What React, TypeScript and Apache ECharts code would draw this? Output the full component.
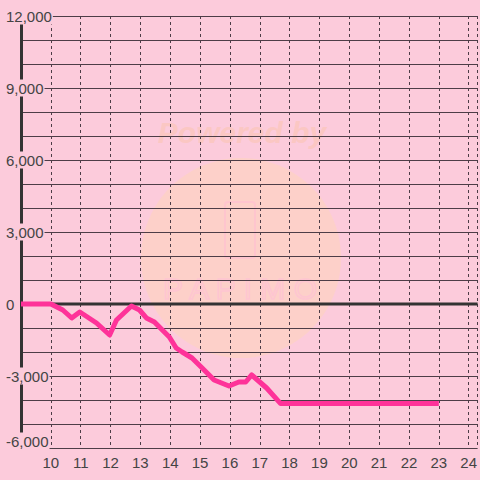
import React, { useEffect, useRef } from "react";
import * as echarts from "echarts";

const xValues = [9, 10, 10.4, 10.7, 10.97, 11.53, 11.97, 12.2, 12.7, 12.97, 13.2, 13.47, 13.97, 14.2, 14.4, 14.73, 15.07, 15.47, 15.97, 16.3, 16.53, 16.73, 17.23, 17.7, 23];
const yValues = [0, 0, -250, -583, -333, -792, -1292, -667, -83, -250, -583, -750, -1375, -1833, -2000, -2250, -2667, -3167, -3417, -3250, -3250, -2958, -3500, -4150, -4150];
const zeroLineX = [10, 24.3];
const zeroLineY = [0, 0];
const xTickLabels = [10, 11, 12, 13, 14, 15, 16, 17, 18, 19, 20, 21, 22, 23, 24];
const yTickLabels = [-6000, -3000, 0, 3000, 6000, 9000, 12000];

const BG = "#fccbdb";
const GRID = "#4d3d47";
const FONT = "'Liberation Sans', Arial, sans-serif";

export default function App() {
  const ref = useRef<HTMLDivElement>(null);
  useEffect(() => {
    const chart = echarts.init(ref.current!, null, { renderer: "svg" });
    const fmt = (v: number) => (v < 0 ? "-" : "") + Math.abs(v).toLocaleString("en-US");
    chart.setOption({
      animation: false,
      backgroundColor: BG,
      graphic: [
        {
          type: "circle",
          shape: { cx: 241, cy: 258, r: 100 },
          style: { fill: "rgba(255,214,180,0.45)" },
          z: 0,
          silent: true,
        },
        {
          type: "text",
          x: 242,
          y: 132,
          style: {
            text: "Powered by",
            font: "italic bold 30px " + FONT,
            fill: "rgba(250,195,165,0.45)",
            align: "center",
            verticalAlign: "middle",
          },
          z: 0,
          silent: true,
        },
        {
          type: "rect",
          shape: { x: 225, y: 202, width: 30, height: 56, r: 3 },
          style: { fill: "none", stroke: "rgba(255,190,210,0.6)", lineWidth: 2 },
          z: 0,
          silent: true,
        },
        {
          type: "text",
          x: 240,
          y: 288,
          style: {
            text: "P A P I M O",
            font: "30px " + FONT,
            fill: "none",
            stroke: "rgba(255,190,215,0.6)",
            lineWidth: 1.5,
            align: "center",
            verticalAlign: "middle",
          },
          z: 0,
          silent: true,
        },
      ],
      grid: { left: 21, right: 0, top: 16, bottom: 32, containLabel: false },
      xAxis: {
        type: "value",
        min: 9,
        max: 24.3,
        interval: 1,
        axisLine: { show: false },
        axisTick: { show: false },
        axisLabel: {
          margin: 7,
          color: "#444",
          fontSize: 15,
          fontFamily: FONT,
          showMaxLabel: false,
          formatter: (v: number) => (xTickLabels.includes(v) ? String(v) : ""),
        },
        splitLine: { show: true, lineStyle: { color: GRID, width: 1, type: [3, 3] } },
      },
      yAxis: {
        type: "value",
        min: -6000,
        max: 12000,
        interval: 1000,
        axisLine: { show: true, onZero: false, lineStyle: { color: "#333", width: 3 } },
        axisTick: { show: false },
        axisLabel: {
          align: "left",
          margin: 16,
          formatter: (v: number) =>
            yTickLabels.includes(v) ? (v === -6000 ? `{b|${fmt(v)}}` : `{a|${fmt(v)}}`) : "",
          rich: {
            a: {
              color: "#444",
              fontSize: 15,
              fontFamily: FONT,
              backgroundColor: BG,
              padding: [1, 1, 1, 1],
              lineHeight: 16,
            },
            b: {
              color: "#444",
              fontSize: 15,
              fontFamily: FONT,
              backgroundColor: BG,
              padding: [1, 1, 15, 1],
              lineHeight: 16,
            },
          },
        },
        splitLine: { show: true, lineStyle: { color: GRID, width: 1 } },
      },
      series: [
        {
          type: "line",
          data: zeroLineX.map((x, i) => [x, zeroLineY[i]]),
          symbol: "none",
          lineStyle: { color: "#333", width: 3 },
          z: 2,
          silent: true,
        },
        {
          type: "line",
          data: xValues.map((x, i) => [x, yValues[i]]),
          symbol: "none",
          lineStyle: { color: "#fe3399", width: 5, join: "round" },
          z: 3,
          silent: true,
        },
      ],
    });
    return () => chart.dispose();
  }, []);
  return <div ref={ref} style={{ width: 480, height: 480, position: "absolute", left: 0, top: 0 }} />;
}
